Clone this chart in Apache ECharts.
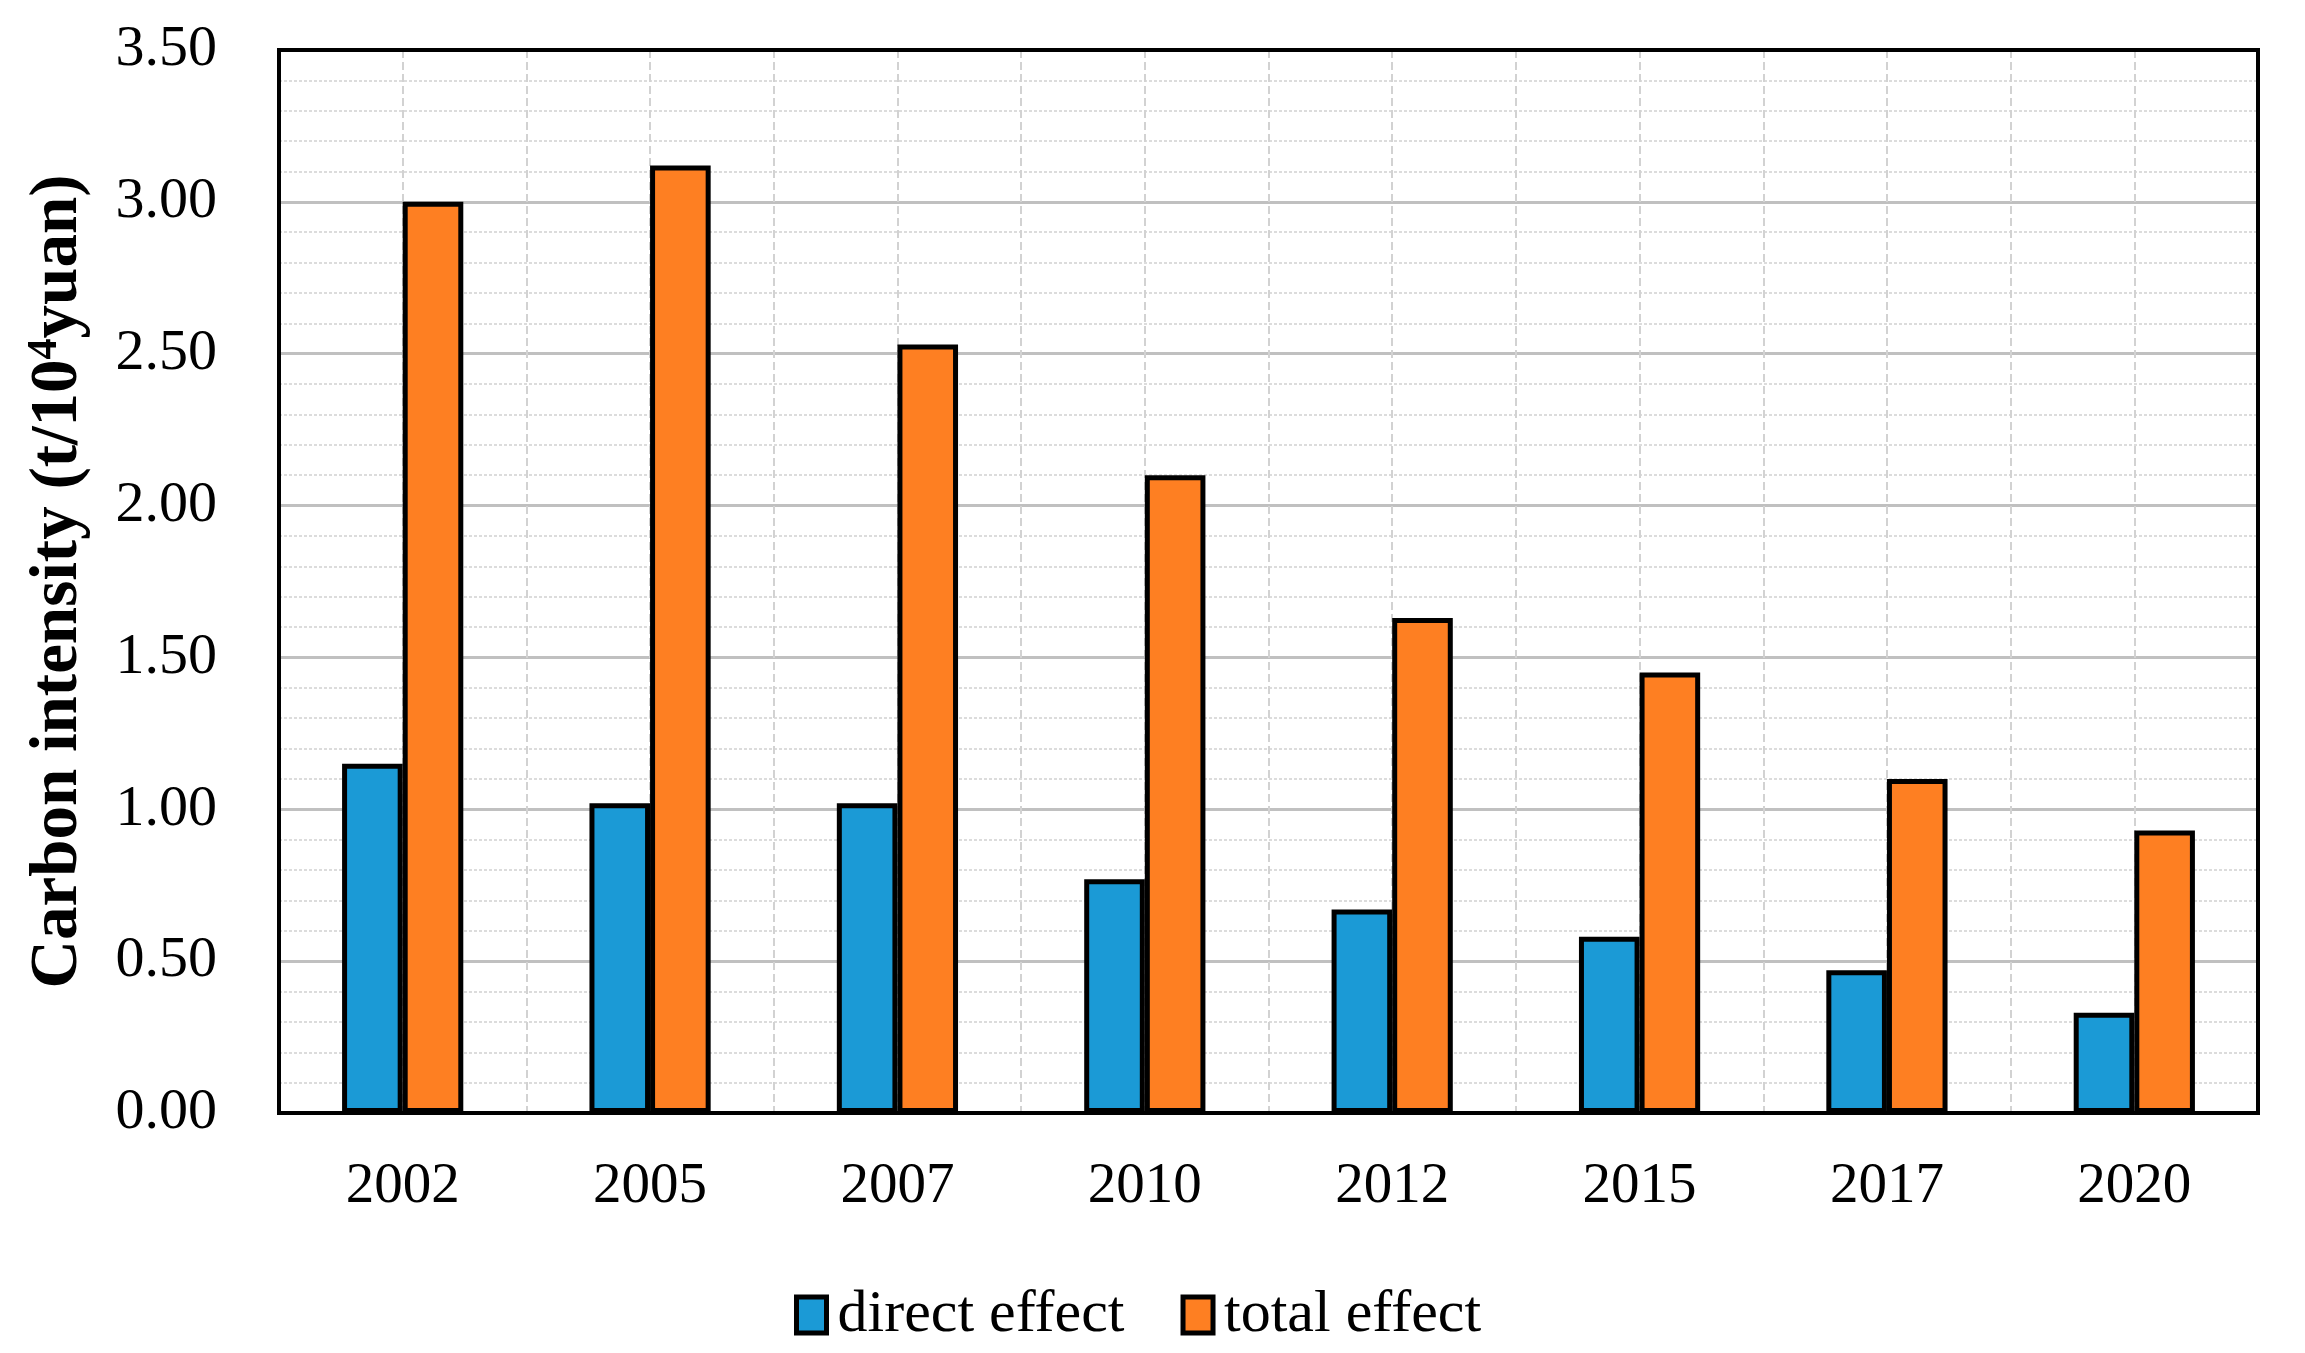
<!DOCTYPE html>
<html>
<head>
<meta charset="utf-8">
<script src="https://cdn.jsdelivr.net/npm/echarts@6/dist/echarts.min.js"></script>
<style>
html,body{margin:0;padding:0;background:#fff;}
#main{width:2305px;height:1353px;}
</style>
</head>
<body>
<div id="main"></div>
<script>
const categories = ['2002','2005','2007','2010','2012','2015','2017','2020'];
const directEffect = [1.15, 1.02, 1.02, 0.77, 0.67, 0.58, 0.47, 0.33];
const totalEffect = [3.00, 3.12, 2.53, 2.10, 1.63, 1.45, 1.10, 0.93];
const yTicks = [0, 0.5, 1.0, 1.5, 2.0, 2.5, 3.0, 3.5];

const FONT = "'Liberation Serif','Times New Roman',serif";
const chart = echarts.init(document.getElementById('main'), null, {renderer: 'canvas'});
chart.setOption({
  animation: false,
  backgroundColor: '#fff',
  grid: {left: 279, right: 47, top: 50, bottom: 240, show: true, borderColor: '#000', borderWidth: 4, backgroundColor: 'transparent', containLabel: false},
  legend: {
    left: 789, top: 1280,
    icon: 'rect',
    itemWidth: 30, itemHeight: 36, itemGap: 56,
    itemStyle: {borderColor: '#000', borderWidth: 5},
    textStyle: {fontFamily: FONT, fontSize: 60, color: '#000', padding: [0,0,0,6]},
    data: ['direct effect', 'total effect']
  },
  xAxis: [{
    type: 'category', data: categories,
    axisLine: {show: true, lineStyle: {color: '#000', width: 4}}, axisTick: {show: false},
    axisLabel: {fontFamily: FONT, fontSize: 57, color: '#000', margin: 46},
    splitLine: {show: false}
  }, {
    type: 'value', min: 0, max: 16, interval: 1, show: true, position: 'top',
    axisLine: {show: true, onZero: false, lineStyle: {color: '#000', width: 4}}, axisTick: {show: false}, axisLabel: {show: false},
    splitLine: {show: true, showMinLine: false, showMaxLine: false, lineStyle: {color: '#d2d2d2', width: 2, type: [8, 4]}}
  }],
  yAxis: [{
    type: 'value', min: yTicks[0], max: yTicks[yTicks.length - 1], interval: 0.5,
    name: 'Carbon intensity (t/10{sup|4}yuan)',
    nameLocation: 'middle', nameGap: 185,
    nameTextStyle: {fontFamily: FONT, fontSize: 67, fontWeight: 'bold', color: '#000',
      rich: {sup: {fontFamily: FONT, fontSize: 42, fontWeight: 'bold', color: '#000', verticalAlign: 'top', padding: [0,0,28,0]}}},
    axisLine: {show: true, lineStyle: {color: '#000', width: 4}}, axisTick: {show: false},
    axisLabel: {fontFamily: FONT, fontSize: 58, color: '#000', margin: 62, formatter: v => v.toFixed(2)},
    splitLine: {show: true, showMinLine: false, showMaxLine: false, lineStyle: {color: '#c0c0c0', width: 3}},
    minorTick: {show: false, splitNumber: 5},
    minorSplitLine: {show: true, lineStyle: {color: '#dcdcdc', width: 2, type: [3, 2]}}
  }, {
    type: 'value', min: yTicks[0], max: yTicks[yTicks.length - 1], interval: 0.5, position: 'right',
    axisLine: {show: true, lineStyle: {color: '#000', width: 4}}, axisTick: {show: false},
    axisLabel: {show: false}, splitLine: {show: false}
  }],
  series: [{
    name: 'direct effect', type: 'bar', xAxisIndex: 0, data: directEffect,
    barWidth: '24.5%', barGap: '0%',
    itemStyle: {color: '#1b9ad6', borderColor: '#000', borderWidth: 5}
  }, {
    name: 'total effect', type: 'bar', xAxisIndex: 0, data: totalEffect,
    barWidth: '24.5%', barGap: '0%',
    itemStyle: {color: '#fe7f22', borderColor: '#000', borderWidth: 5}
  }]
});
</script>
</body>
</html>
